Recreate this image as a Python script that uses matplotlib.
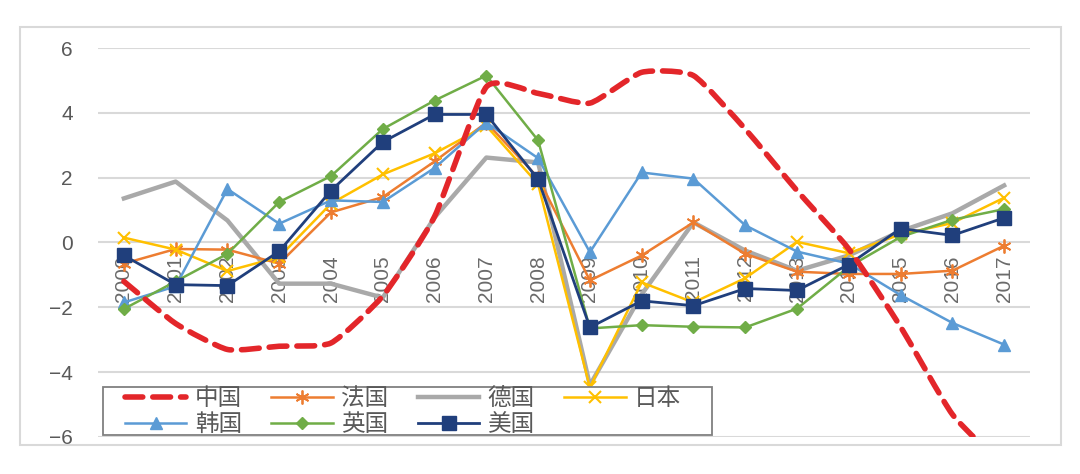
import numpy as np
import matplotlib.pyplot as plt
from matplotlib.path import Path
from matplotlib.patches import PathPatch, Rectangle
from matplotlib.lines import Line2D

plt.rcParams['font.family'] = ['Noto Sans CJK SC', 'DejaVu Sans']

# data
years = ['2000', '2001', '2002', '2003', '2004', '2005', '2006', '2007', '2008',
         '2009', '2010', '2011', '2012', '2013', '2014', '2015', '2016', '2017']
china = [-1.2, -2.5, -3.3, -3.2, -3.1, -1.65, 0.8, 4.8, 4.6, 4.3, 5.25, 5.15,
         3.5, 1.6, -0.2, -2.6, -5.3, -6.9]
france = [-0.65, -0.2, -0.22, -0.65, 0.93, 1.4, 2.5, 3.7, 2.0, -1.17, -0.4, 0.62,
          -0.35, -0.9, -0.97, -0.97, -0.87, -0.1]
germany = [1.36, 1.88, 0.68, -1.27, -1.27, -1.7, 0.77, 2.62, 2.47, -4.4, -1.6, 0.62,
           -0.25, -0.87, -0.4, 0.35, 0.9, 1.76]
japan = [0.15, -0.22, -0.88, -0.45, 1.2, 2.1, 2.75, 3.6, 1.8, -4.47, -1.23, -1.85,
         -1.1, 0.02, -0.33, 0.25, 0.6, 1.38]
korea = [-1.85, -1.35, 1.65, 0.58, 1.3, 1.25, 2.3, 3.7, 2.6, -0.3, 2.16, 1.97,
         0.53, -0.28, -0.65, -1.62, -2.48, -3.15]
uk = [-2.05, -1.2, -0.35, 1.25, 2.05, 3.5, 4.38, 5.15, 3.15, -2.65, -2.55, -2.6,
      -2.62, -2.04, -0.75, 0.17, 0.7, 1.03]
usa = [-0.4, -1.3, -1.33, -0.27, 1.6, 3.1, 3.95, 3.95, 1.95, -2.62, -1.8, -1.95,
       -1.42, -1.48, -0.68, 0.43, 0.22, 0.76]

x = np.arange(len(years))
gray_txt = '#595959'
num_font = ['Liberation Sans', 'DejaVu Sans']

fig = plt.figure(figsize=(10.8, 4.74), dpi=100)
# outer chart frame
fig.patches.append(Rectangle((20 / 1080, 1 - 445 / 474), 1041 / 1080, 418 / 474,
                             transform=fig.transFigure, fill=False,
                             edgecolor='#d9d9d9', lw=1.5))
ax = fig.add_axes([98 / 1080, 1 - 437 / 474, 932 / 1080, 389 / 474])

ax.set_xlim(-0.5, len(years) - 0.5)
ax.set_ylim(-6, 6)
ax.set_yticks([-6, -4, -2, 0, 2, 4, 6])
ax.set_yticklabels(['−6', '−4', '−2', '0', '2', '4', '6'],
                   fontsize=15, color=gray_txt, family=num_font)
ax.tick_params(axis='y', length=0, pad=18)
ax.set_xticks([])
for s in ax.spines.values():
    s.set_visible(False)
ax.grid(axis='y', color='#d9d9d9', lw=1.5)
ax.set_axisbelow(True)

# year labels hang just under the zero line
for i, yr in enumerate(years):
    ax.annotate(yr, (i, 0), xytext=(0, -9), textcoords='offset points',
                rotation=90, ha='center', va='top', fontsize=15, color='#6a6a6a',
                family=num_font, zorder=1)

ax.plot(x, germany, color='#a9a9a9', lw=3.2, label='德国', zorder=3)
ax.plot(x, france, color='#ed7d31', lw=1.8, marker=(6, 2, 0), ms=10, mew=1.3,
        label='法国', zorder=3)
ax.plot(x, japan, color='#ffc000', lw=1.8, marker='x', ms=9, mew=1.5,
        label='日本', zorder=3)
ax.plot(x, korea, color='#5b9bd5', lw=1.8, marker='^', ms=9, label='韩国', zorder=3)
ax.plot(x, uk, color='#70ad47', lw=1.8, marker='D', ms=6, label='英国', zorder=3)
ax.plot(x, usa, color='#203f7c', lw=2.0, marker='s', ms=10, label='美国', zorder=4)

# China: smoothed dashed curve (cardinal spline as cubic Bezier)
pts = np.column_stack([x, china]).astype(float)
ext = np.vstack([pts[0], pts, pts[-1]])
verts = [pts[0]]
codes = [Path.MOVETO]
k = 1 / 11
for i in range(len(pts) - 1):
    p0, p1, p2, p3 = ext[i], ext[i + 1], ext[i + 2], ext[i + 3]
    verts += [p1 + (p2 - p0) * k, p2 - (p3 - p1) * k, p2]
    codes += [Path.CURVE4] * 3
red = '#e3262a'
ax.add_patch(PathPatch(Path(verts, codes), fill=False, edgecolor=red, lw=4,
                       linestyle=(0, (3.2, 1.8)), capstyle='round', zorder=5))

# legend box drawn separately so the entries can sit inset like the original
ax.add_patch(Rectangle((103 / 1080, 1 - 435 / 474), 609 / 1080, 48 / 474,
                       transform=fig.transFigure, facecolor='white',
                       edgecolor='#808080', lw=1.3, zorder=9, clip_on=False))

h = {l.get_label(): l for l in ax.get_lines()}
h['中国'] = Line2D([], [], color=red, lw=4, linestyle=(0, (3.2, 1.8)),
                  dash_capstyle='round')
order = ['中国', '韩国', '法国', '英国', '德国', '美国', '日本']
leg = ax.legend([h[k] for k in order], order, ncol=4, loc='upper left',
                bbox_to_anchor=(125 / 1080, 1 - 387 / 474),
                bbox_transform=fig.transFigure, borderaxespad=0,
                fontsize=17, labelcolor=gray_txt, numpoints=1,
                handlelength=2.6, handletextpad=0.35, columnspacing=1.25,
                labelspacing=0.12, borderpad=0.0, frameon=False)
leg.set_zorder(10)

fig.savefig('out.png', dpi=100)
